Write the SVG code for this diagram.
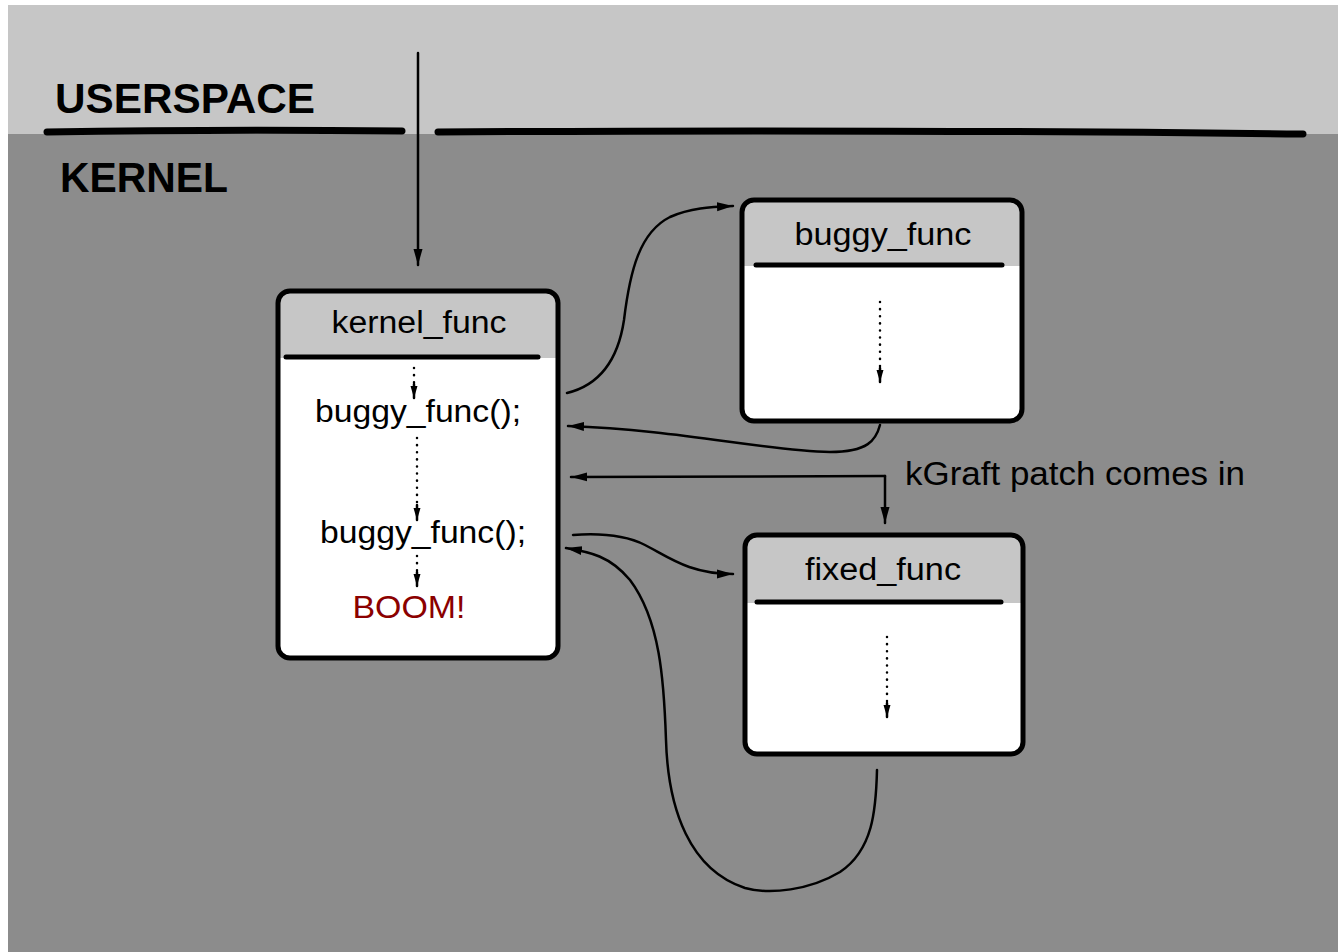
<svg xmlns="http://www.w3.org/2000/svg" width="1338" height="952" viewBox="0 0 1338 952">
<defs>
<marker id="ah" markerUnits="userSpaceOnUse" markerWidth="20" markerHeight="12" refX="16" refY="6" orient="auto">
<path d="M0,1.5 L16,6 L0,10.5 Z" fill="#000"/>
</marker>
<marker id="ahs" markerUnits="userSpaceOnUse" markerWidth="14" markerHeight="10" refX="12" refY="5" orient="auto">
<path d="M0,1.5 L12,5 L0,8.5 Z" fill="#000"/>
</marker>
<style>
.lbl{font-family:"Liberation Sans",Arial,sans-serif;font-weight:bold;font-size:42px;fill:#000}
.t{font-family:"Liberation Sans",Arial,sans-serif;font-size:31px;fill:#000}
.box{fill:#fff;stroke:none}
.frame{fill:none;stroke:#000;stroke-width:5}
.sep{stroke:#000;stroke-width:5;stroke-linecap:round}
.hdr{fill:#c6c6c6}
.conn{fill:none;stroke:#000;stroke-width:2.5;stroke-linecap:round}
.dot{fill:none;stroke:#000;stroke-width:2.5;stroke-dasharray:0.1 7;stroke-linecap:round}
</style>
</defs>
<rect x="0" y="0" width="1338" height="952" fill="#fff"/>
<rect x="8" y="5" width="1330" height="130" fill="#c6c6c6"/>
<rect x="8" y="134" width="1330" height="818" fill="#8c8c8c"/>

<g id="layers">
<path d="M47,132 Q220,129 402,131" stroke="#000" stroke-width="7" stroke-linecap="round" fill="none"/>
<path d="M438,132 Q850,129 1303,134" stroke="#000" stroke-width="7" stroke-linecap="round" fill="none"/>
<text class="lbl" x="55" y="113" textLength="260" lengthAdjust="spacingAndGlyphs">USERSPACE</text>
<text class="lbl" x="60" y="192" textLength="168" lengthAdjust="spacingAndGlyphs">KERNEL</text>
</g>

<g id="kernel_func">
<rect class="box" x="278" y="291" width="280" height="367" rx="12"/>
<path class="hdr" d="M290,291 H546 Q558,291 558,303 V358 H278 V303 Q278,291 290,291 Z"/>
<rect class="frame" x="278" y="291" width="280" height="367" rx="12"/>
<line class="sep" x1="286" y1="357" x2="538" y2="357"/>
<text class="t" x="419" y="333" text-anchor="middle" textLength="175" lengthAdjust="spacingAndGlyphs">kernel_func</text>
<text class="t" x="418" y="422" text-anchor="middle" textLength="206" lengthAdjust="spacingAndGlyphs">buggy_func();</text>
<text class="t" x="423" y="543" text-anchor="middle" textLength="206" lengthAdjust="spacingAndGlyphs">buggy_func();</text>
<text class="t" x="409" y="618" text-anchor="middle" fill="#8b0000" style="fill:#8b0000" textLength="113" lengthAdjust="spacingAndGlyphs">BOOM!</text>
<path class="dot" d="M414,368 V384"/>
<path class="conn" d="M414,384 V398" marker-end="url(#ahs)"/>
<path class="dot" d="M417,438 V505"/>
<path class="conn" d="M417,505 V520" marker-end="url(#ahs)"/>
<path class="dot" d="M417,556 V572"/>
<path class="conn" d="M417,572 V586" marker-end="url(#ahs)"/>
</g>

<g id="buggy_func">
<rect class="box" x="742" y="200" width="280" height="221" rx="12"/>
<path class="hdr" d="M754,200 H1010 Q1022,200 1022,212 V266 H742 V212 Q742,200 754,200 Z"/>
<rect class="frame" x="742" y="200" width="280" height="221" rx="12"/>
<line class="sep" x1="756" y1="265" x2="1002" y2="265"/>
<text class="t" x="883" y="245" text-anchor="middle" textLength="177" lengthAdjust="spacingAndGlyphs">buggy_func</text>
<path class="dot" d="M880,302 V368"/>
<path class="conn" d="M880,368 V382" marker-end="url(#ahs)"/>
</g>

<g id="fixed_func">
<rect class="box" x="745" y="535" width="278" height="219" rx="12"/>
<path class="hdr" d="M757,535 H1011 Q1023,535 1023,547 V603 H745 V547 Q745,535 757,535 Z"/>
<rect class="frame" x="745" y="535" width="278" height="219" rx="12"/>
<line class="sep" x1="757" y1="602" x2="1001" y2="602"/>
<text class="t" x="883" y="580" text-anchor="middle" textLength="156" lengthAdjust="spacingAndGlyphs">fixed_func</text>
<path class="dot" d="M887,637 V703"/>
<path class="conn" d="M887,703 V717" marker-end="url(#ahs)"/>
</g>

<g id="connectors">
<path class="conn" d="M418,53 L418,265" marker-end="url(#ah)"/>
<path class="conn" d="M567,393 C600,385 618,360 624,320 C630,270 640,232 670,217 C690,208 710,207 733,206" marker-end="url(#ah)"/>
<path class="conn" d="M880,425 C876,440 868,452 830,452 C760,450 680,430 568,426" marker-end="url(#ah)"/>
<path class="conn" d="M885,476 C800,477 700,476 571,477" marker-end="url(#ah)"/>
<path class="conn" d="M885,476 L885,523" marker-end="url(#ah)"/>
<path class="conn" d="M573,535 C600,533 625,535 645,545 C670,558 690,574 733,574" marker-end="url(#ah)"/>
<path class="conn" d="M877,770 C876,810 873,850 840,872 C810,890 770,895 745,888 C690,870 668,810 666,740 C664,680 660,620 630,580 C610,556 590,552 566,548" marker-end="url(#ah)"/>
<text class="t" x="905" y="485" style="font-size:34px" textLength="340" lengthAdjust="spacingAndGlyphs">kGraft patch comes in</text>
</g>
</svg>
